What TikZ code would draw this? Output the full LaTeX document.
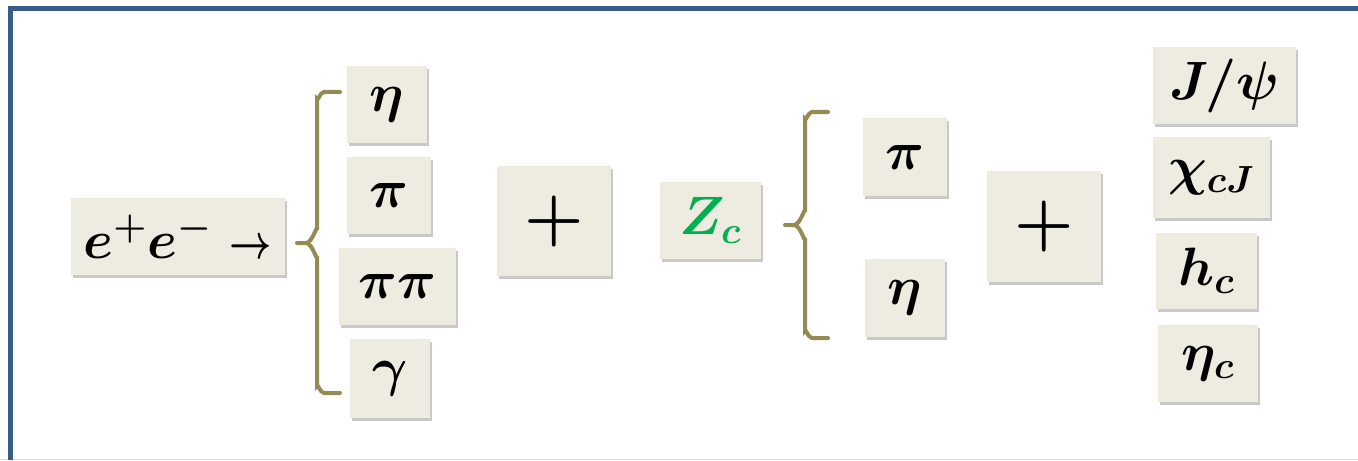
\RequirePackage{fix-cm}
\documentclass[tikz,border=0pt]{standalone}
\usepackage{amsmath}
\usepackage{graphicx}
\usetikzlibrary{shadows}
\definecolor{boxfill}{RGB}{238,236,225}
\definecolor{framecol}{RGB}{56,93,138}
\definecolor{bracecol}{RGB}{148,138,84}
\definecolor{zcgreen}{RGB}{0,176,80}
\tikzset{
  pbox/.style={fill=boxfill, draw=none, inner sep=0pt,
    drop shadow={shadow xshift=1pt, shadow yshift=-1.6pt, opacity=0.3, fill=black!70},
    font=\fontsize{27}{30}\selectfont\boldmath},
  plusbox/.style={pbox, font=\fontsize{34}{40}\selectfont\boldmath},
  bracestyle/.style={draw=bracecol, line width=2pt, line cap=round},
  framestyle/.style={draw=framecol, line width=2.6pt}
}
\begin{document}
\begin{tikzpicture}[x=0.5pt,y=-0.5pt]
\useasboundingbox (0,0) rectangle (1358,460);
% frame
\draw[gray!25, line width=0.6pt] (0,459.5) -- (1358,459.5);
\draw[framestyle] (10.5,460) -- (10.5,8.5) -- (1358,8.5);
% left group
\node[pbox, minimum width=107pt, minimum height=38.5pt] (ee) at (177.5,236.5) {$e^{+}e^{-}\mathrel{\scalebox{0.68}[0.9]{$\unboldmath\rightarrow$}}$};
\node[pbox, minimum width=40pt, minimum height=38.5pt] (eta1) at (387,104.5) {$\eta$};
\node[pbox, minimum width=42pt, minimum height=38.5pt] (pi1) at (389,195.5) {$\pi$};
\node[pbox, minimum width=58.5pt, minimum height=38.5pt] (pipi) at (397.5,286.5) {$\pi\pi$};
\node[pbox, minimum width=40pt, minimum height=39.5pt] (gam) at (390,378.5) {$\gamma$};
\node[plusbox, minimum width=57pt, minimum height=55pt] (plus1) at (554,221) {$+$};
\node[pbox, minimum width=50.5pt, minimum height=38.5pt] (zc) at (710.5,220.5) {\color{zcgreen}$Z_{c}$};
\node[pbox, minimum width=42pt, minimum height=39pt] (pi2) at (905,157) {$\pi$};
\node[pbox, minimum width=40pt, minimum height=39pt] (eta2) at (905,298) {$\eta$};
\node[plusbox, minimum width=57pt, minimum height=55.5pt] (plus2) at (1044,226.5) {$+$};
\node[pbox, minimum width=71.5pt, minimum height=38.5pt] (jpsi) at (1224.5,85.5) {$J/\psi$};
\node[pbox, minimum width=58.5pt, minimum height=40.5pt] (chi) at (1211.5,177.5) {$\chi_{cJ}$};
\node[pbox, minimum width=50.5pt, minimum height=38pt] (hc) at (1206.5,271) {$h_{c}$};
\node[pbox, minimum width=50pt, minimum height=38.5pt] (etac) at (1208,363.5) {$\eta_{c}$};
% braces
\draw[bracestyle] (340,92) -- (324,92) to[out=180,in=-90] (317,99) -- (317,230)
  to[out=90,in=0] (306,243) -- (297,243);
\draw[bracestyle] (306,243) to[out=0,in=-90] (317,256) -- (317,386)
  to[out=90,in=180] (324,393) -- (340,393);
\draw[bracestyle] (828,112) -- (812,112) to[out=180,in=-90] (805,119) -- (805,212)
  to[out=90,in=0] (794,225) -- (785,225);
\draw[bracestyle] (794,225) to[out=0,in=-90] (805,238) -- (805,331)
  to[out=90,in=180] (812,338) -- (828,338);
\end{tikzpicture}
\end{document}
